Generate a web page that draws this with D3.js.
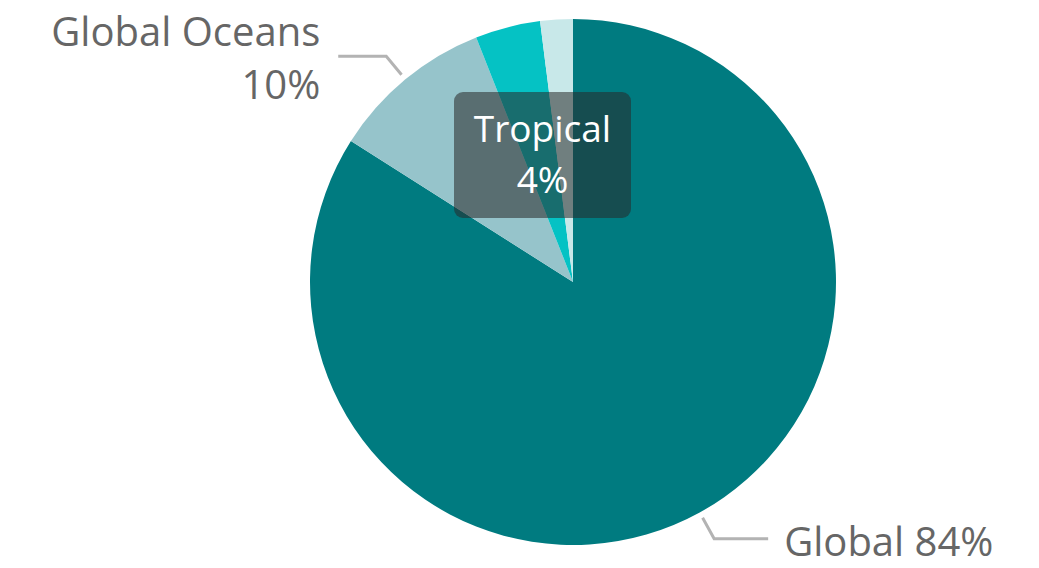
<!DOCTYPE html>
<html><head><meta charset="utf-8">
<script src="https://cdn.jsdelivr.net/npm/d3@7"></script>
<style>html,body{margin:0;padding:0;background:#fff;}svg{display:block;}</style>
</head><body>
<svg id="chart" width="1039" height="568"></svg>
<script>
const categories = ["Global", "Global Oceans", "Tropical", "Other"];
const values = [84, 10, 4, 2];
const colors = ["#007B80", "#96C4CB", "#05C2C4", "#C8E8E9"];
const labelTexts = ["Global 84%", "Global Oceans|10%", "", ""];
const tooltipCategory = "Tropical";
const tooltipValue = "4%";

const svg = d3.select("#chart");
const cx = 573, cy = 282, R = 263;
const font = "'Open Sans', 'Noto Sans', sans-serif";
const fs = 40;
const tfs = 37;

const data = categories.map((c, i) => ({ name: c, value: values[i], color: colors[i] }));
const pie = d3.pie().value(d => d.value).sort(null);
const arc = d3.arc().innerRadius(0).outerRadius(R);
const arcs = pie(data);

const g = svg.append("g").attr("transform", `translate(${cx},${cy})`);
g.selectAll("path").data(arcs).join("path")
  .attr("d", arc).attr("fill", d => d.data.color);

// leader lines
const lineColor = "#B3B3B3";
function leader(a, dir, horiz) {
  const mid = (a.startAngle + a.endAngle) / 2;
  const p0 = [Math.sin(mid) * (R + 6), -Math.cos(mid) * (R + 6)];
  const p1 = [Math.sin(mid) * (R + 30), -Math.cos(mid) * (R + 30)];
  const p2 = [p1[0] + dir * horiz, p1[1]];
  g.append("polyline").attr("points", [p0, p1, p2].map(p => p.join(",")).join(" "))
    .attr("fill", "none").attr("stroke", lineColor).attr("stroke-width", 3);
  return p2;
}
const pG = leader(arcs[0], 1, 54);
const pO = leader(arcs[1], -1, 48);

g.append("text").attr("x", pG[0] + 16).attr("y", pG[1] + 17)
  .attr("font-family", font).attr("font-size", fs).attr("fill", "#666")
  .text(labelTexts[0]);
const oParts = labelTexts[1].split("|");
g.append("text").attr("x", pO[0] - 18).attr("y", pO[1] - 10)
  .attr("text-anchor", "end").attr("font-family", font).attr("font-size", fs).attr("fill", "#666")
  .text(oParts[0]);
g.append("text").attr("x", pO[0] - 18).attr("y", pO[1] + 43)
  .attr("text-anchor", "end").attr("font-family", font).attr("font-size", fs).attr("fill", "#666")
  .text(oParts[1]);

// tooltip box
const tx = 454, ty = 92, tw = 177, th = 126;
svg.append("rect").attr("x", tx).attr("y", ty).attr("width", tw).attr("height", th)
  .attr("rx", 9).attr("fill", "rgba(40,40,40,0.55)");
svg.append("text").attr("x", tx + tw / 2).attr("y", ty + 50)
  .attr("text-anchor", "middle").attr("font-family", font).attr("font-size", tfs).attr("fill", "#fff")
  .text(tooltipCategory);
svg.append("text").attr("x", tx + tw / 2).attr("y", ty + 101)
  .attr("text-anchor", "middle").attr("font-family", font).attr("font-size", tfs).attr("fill", "#fff")
  .text(tooltipValue);
</script>
</body></html>
